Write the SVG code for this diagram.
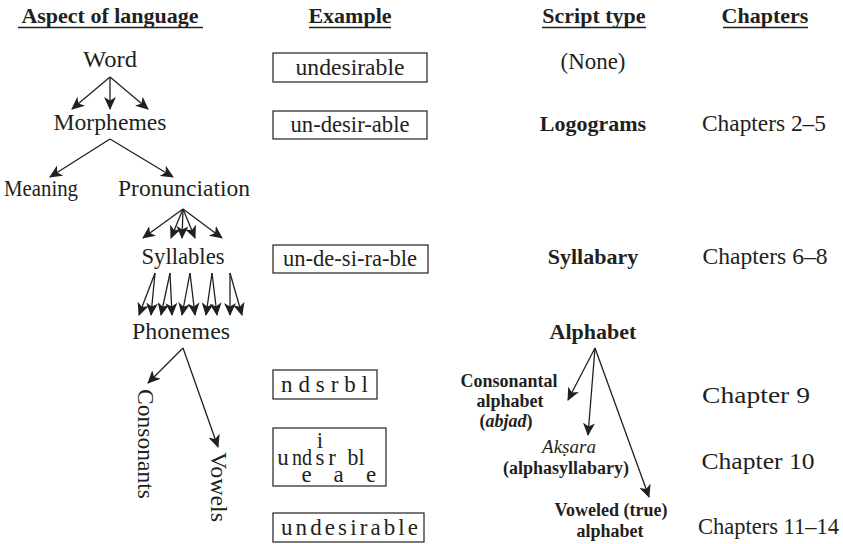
<svg xmlns="http://www.w3.org/2000/svg" width="843" height="544" viewBox="0 0 843 544">
<defs>
<style>
text{font-family:"Liberation Serif","Times New Roman",serif;fill:#231f20}
.r{font-size:23px}
.h{font-size:22px;font-weight:bold}
.b{font-size:22px;font-weight:bold}
.s{font-size:18px;font-weight:bold}
.i{font-size:19px;font-style:italic}
.c{text-anchor:middle}
.ul{stroke:#231f20;stroke-width:1.3}
.box{fill:none;stroke:#231f20;stroke-width:1.2}
.con line{stroke:#231f20;stroke-width:1.3;marker-end:url(#ah)}
</style>
<marker id="ah" markerUnits="userSpaceOnUse" markerWidth="14" markerHeight="12" viewBox="0 0 14 12" refX="12" refY="6" orient="auto">
<path d="M0,0 L13,6 L0,12 L3.5,6 Z" fill="#231f20"/>
</marker>
</defs>

<g id="headers">
<text class="h c" x="110" y="23">Aspect of language</text>
<line class="ul" x1="18" y1="27.5" x2="203" y2="27.5"/>
<text class="h c" x="350" y="23">Example</text>
<line class="ul" x1="309" y1="27.5" x2="391" y2="27.5"/>
<text class="h c" x="594" y="23">Script type</text>
<line class="ul" x1="542" y1="27.5" x2="646" y2="27.5"/>
<text class="h c" x="765" y="23">Chapters</text>
<line class="ul" x1="723" y1="27.5" x2="808" y2="27.5"/>
</g>

<g id="word"><text class="r c" x="110" y="67" textLength="54" lengthAdjust="spacingAndGlyphs">Word</text></g>
<g id="morphemes"><text class="r c" x="110" y="130" textLength="113" lengthAdjust="spacingAndGlyphs">Morphemes</text></g>
<g id="meaning"><text class="r c" x="41" y="196" textLength="74" lengthAdjust="spacingAndGlyphs">Meaning</text></g>
<g id="pronunciation"><text class="r c" x="184" y="196" textLength="132" lengthAdjust="spacingAndGlyphs">Pronunciation</text></g>
<g id="syllables"><text class="r c" x="183" y="264" textLength="83" lengthAdjust="spacingAndGlyphs">Syllables</text></g>
<g id="phonemes"><text class="r c" x="181" y="339" textLength="98" lengthAdjust="spacingAndGlyphs">Phonemes</text></g>
<g id="consonants"><text class="r" transform="translate(138,389) rotate(90)" textLength="110" lengthAdjust="spacingAndGlyphs">Consonants</text></g>
<g id="vowels"><text class="r" transform="translate(211,452) rotate(90)" textLength="70" lengthAdjust="spacingAndGlyphs">Vowels</text></g>

<g id="ex-word"><rect class="box" x="273" y="53" width="154" height="29"/><text class="r c" x="350" y="75" textLength="109" lengthAdjust="spacingAndGlyphs">undesirable</text></g>
<g id="ex-morph"><rect class="box" x="273" y="111" width="154" height="28"/><text class="r c" x="350" y="132" textLength="119" lengthAdjust="spacingAndGlyphs">un-desir-able</text></g>
<g id="ex-syll"><rect class="box" x="273" y="245" width="155" height="28"/><text class="r c" x="350" y="266" textLength="134" lengthAdjust="spacingAndGlyphs">un-de-si-ra-ble</text></g>
<g id="ex-abjad"><rect class="box" x="273" y="370" width="104" height="29"/><text class="r" x="281" y="392" textLength="87" lengthAdjust="spacing">ndsrbl</text></g>
<g id="ex-aksara"><rect class="box" x="273" y="428" width="113" height="58"/>
<text class="r c" x="283" y="465">u</text>
<text class="r c" x="302" y="465" textLength="20" lengthAdjust="spacingAndGlyphs">nd</text>
<text class="r c" x="306.5" y="482">e</text>
<text class="r c" x="320" y="448">i</text>
<text class="r c" x="320" y="465">s</text>
<text class="r c" x="332" y="465">r</text>
<text class="r c" x="338.5" y="482">a</text>
<text class="r c" x="356" y="465" textLength="17" lengthAdjust="spacingAndGlyphs">bl</text>
<text class="r c" x="371" y="482">e</text>
</g>
<g id="ex-alpha"><rect class="box" x="273" y="513" width="151" height="29"/><text class="r" x="281" y="535" textLength="137" lengthAdjust="spacing">undesirable</text></g>

<g id="st-none"><text class="r c" x="593" y="69" textLength="65" lengthAdjust="spacingAndGlyphs">(None)</text></g>
<g id="st-logo"><text class="b c" x="593" y="131">Logograms</text></g>
<g id="st-syll"><text class="b c" x="593" y="264">Syllabary</text></g>
<g id="st-alpha"><text class="b c" x="593" y="339">Alphabet</text></g>
<g id="st-abjad"><text class="s c" x="509" y="387">Consonantal</text><text class="s c" x="510" y="407">alphabet</text><text class="s c" x="506" y="427">(<tspan font-style="italic">abjad</tspan>)</text></g>
<g id="st-aksara"><text class="i c" x="569" y="453">Akṣara</text><text class="s c" x="566" y="474">(alphasyllabary)</text></g>
<g id="st-true"><text class="s c" x="611" y="516">Voweled (true)</text><text class="s c" x="610" y="537">alphabet</text></g>

<g id="ch-logo"><text class="r c" x="764" y="131" textLength="124" lengthAdjust="spacingAndGlyphs">Chapters 2–5</text></g>
<g id="ch-syll"><text class="r c" x="765" y="264" textLength="125" lengthAdjust="spacingAndGlyphs">Chapters 6–8</text></g>
<g id="ch-abjad"><text class="r c" x="756" y="403" textLength="108" lengthAdjust="spacingAndGlyphs">Chapter 9</text></g>
<g id="ch-aksara"><text class="r c" x="758" y="469" textLength="113" lengthAdjust="spacingAndGlyphs">Chapter 10</text></g>
<g id="ch-alpha"><text x="839" y="534" text-anchor="end" font-size="22.5">Chapters 11–14</text></g>

<g id="connectors" class="con">
<line x1="110" y1="77" x2="72" y2="109"/>
<line x1="110" y1="77" x2="110" y2="109"/>
<line x1="110" y1="77" x2="148" y2="109"/>
<line x1="110" y1="139" x2="50" y2="177"/>
<line x1="110" y1="139" x2="173" y2="177"/>
<line x1="183" y1="209" x2="143" y2="238"/>
<line x1="183" y1="209" x2="171" y2="238"/>
<line x1="183" y1="209" x2="182" y2="238"/>
<line x1="183" y1="209" x2="195" y2="238"/>
<line x1="183" y1="209" x2="222" y2="238"/>
<line x1="155" y1="273" x2="139" y2="315"/>
<line x1="155" y1="273" x2="151" y2="315"/>
<line x1="170" y1="273" x2="161" y2="315"/>
<line x1="170" y1="273" x2="172" y2="315"/>
<line x1="190" y1="273" x2="182" y2="315"/>
<line x1="190" y1="273" x2="195" y2="315"/>
<line x1="212" y1="273" x2="206" y2="315"/>
<line x1="212" y1="273" x2="217" y2="315"/>
<line x1="230" y1="273" x2="230" y2="315"/>
<line x1="230" y1="273" x2="242" y2="315"/>
<line x1="183" y1="348" x2="148" y2="383"/>
<line x1="183" y1="348" x2="218" y2="447"/>
<line x1="595" y1="348" x2="568" y2="400"/>
<line x1="595" y1="348" x2="588" y2="435"/>
<line x1="595" y1="348" x2="649" y2="497"/>
</g>
</svg>
